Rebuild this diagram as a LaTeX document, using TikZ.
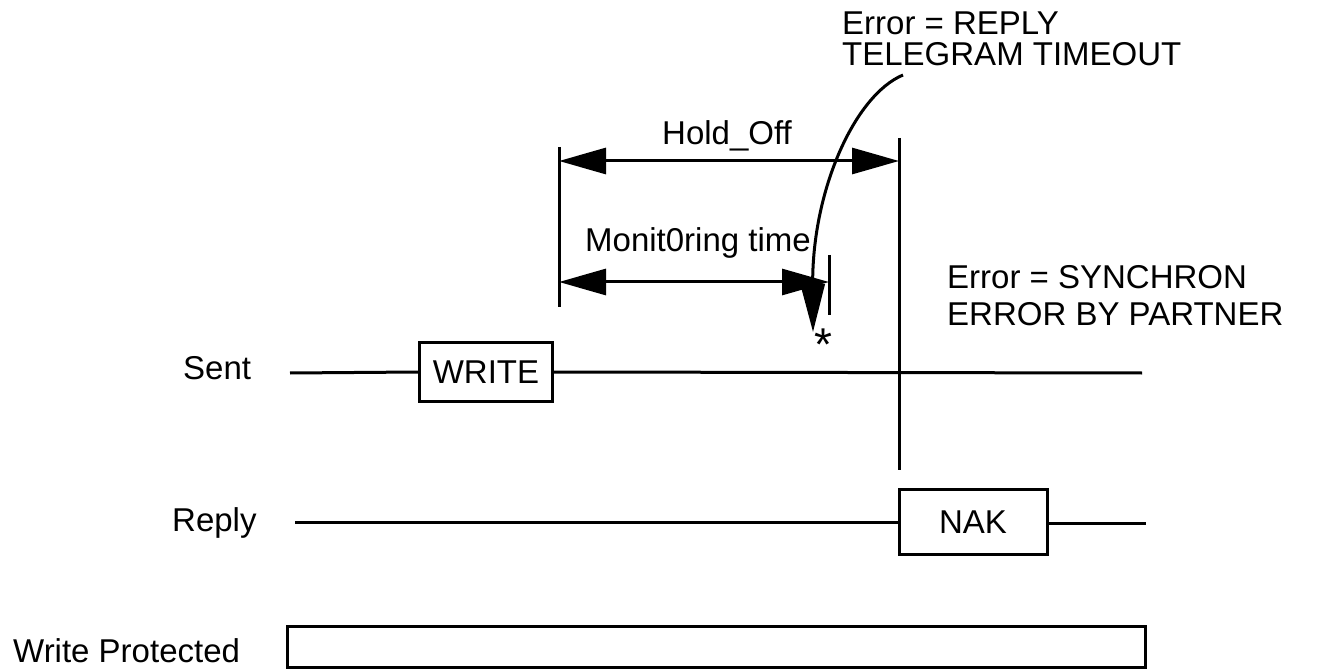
\documentclass[tikz,border=0pt]{standalone}
\usepackage{fontspec}
\setmainfont{Liberation Sans}
\usetikzlibrary{arrows.meta}
\begin{document}
\begin{tikzpicture}[x=1pt,y=-1pt,
  lbl/.style={anchor=base west,inner sep=0pt,font=\fontsize{33}{38}\selectfont},
  sig/.style={line width=3pt},
  boxed/.style={draw,line width=3pt,inner sep=0pt,font=\fontsize{33}{38}\selectfont},
  dimarrow/.style={line width=3pt,{Triangle[length=47pt,width=26pt]}-{Triangle[length=47pt,width=26pt]}}
]
\useasboundingbox (0,0) rectangle (1318,671);
% labels
\node[lbl] (err1) at (842,35) {Error = REPLY};
\node[lbl] (err2) at (842,66) {TELEGRAM TIMEOUT};
\node[lbl] (hold) at (662,145) {Hold\_Off};
\node[lbl] (mon) at (585,252) {Monit0ring time};
\node[lbl] (syn1) at (947,288) {Error = SYNCHRON};
\node[lbl] (syn2) at (947,325) {ERROR BY PARTNER};
\node[lbl] (sent) at (183,379) {Sent};
\node[lbl] (reply) at (172,531) {Reply};
\node[lbl] (wp) at (13,662) {Write Protected};
\node[anchor=base,inner sep=0pt,font=\fontsize{46}{50}\selectfont] (star) at (823,360) {*};
% boxes
\node[boxed,minimum width=133pt,minimum height=59pt] (write) at (486,372) {WRITE};
\node[boxed,minimum width=148pt,minimum height=65pt] (nak) at (973,522) {NAK};
\node[boxed,minimum width=858pt,minimum height=41pt] (wpbox) at (716,647) {};
% coordinates
\coordinate (s0) at (290,373);
\coordinate (s1) at (1142,373);
\coordinate (r0) at (295,522);
\coordinate (r1) at (1146,523);
\coordinate (vL0) at (559,147);
\coordinate (vL1) at (559,307);
\coordinate (vR0) at (899,138);
\coordinate (vR1) at (899,470);
\coordinate (vM0) at (829,255);
\coordinate (vM1) at (829,315);
\coordinate (h0) at (559,161);
\coordinate (h1) at (899,161);
\coordinate (m0) at (559,282);
\coordinate (m1) at (829,282);
\coordinate (c0) at (903,75);
\coordinate (c1) at (813,332);
% signal lines
\draw[sig] (s0) -- (write.west);
\draw[sig] (write.east) -- (s1);
\draw[sig] (r0) -- (nak.west |- r0);
\draw[sig] (nak.east |- r1) -- (r1);
% verticals
\draw[sig] (vL0) -- (vL1);
\draw[sig] (vR0) -- (vR1);
\draw[sig] (vM0) -- (vM1);
% dimension arrows
\draw[dimarrow] (h0) -- (h1);
\draw[dimarrow] (m0) -- (m1);
% curved pointer
\draw[line width=3pt,-{Triangle[length=48pt,width=24pt]}] (c0) .. controls (855,95) and (812,190) .. (c1);
\end{tikzpicture}
\end{document}
